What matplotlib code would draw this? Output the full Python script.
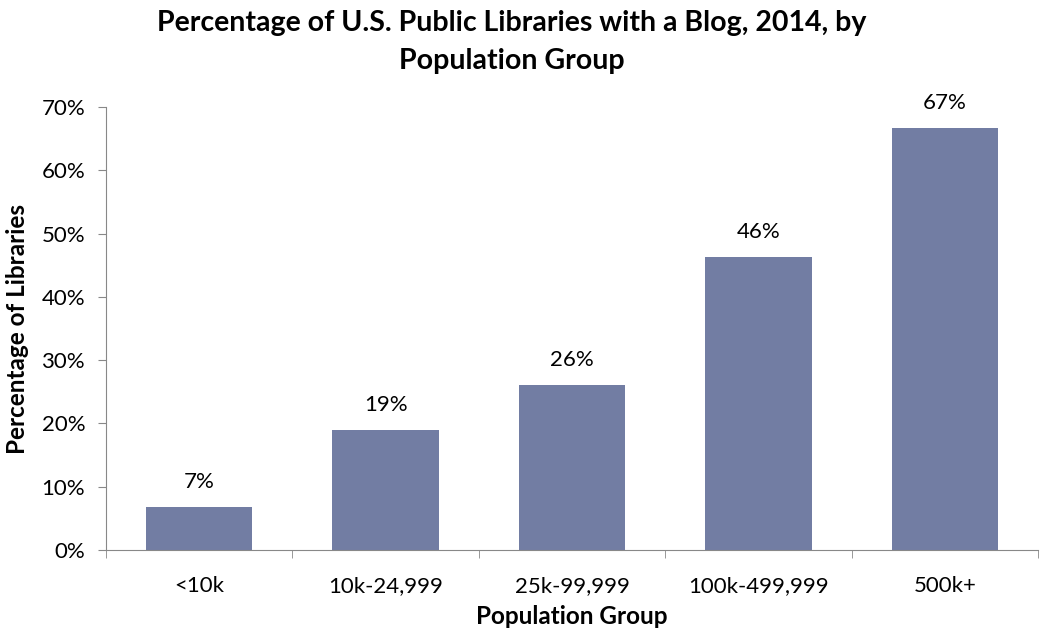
import matplotlib
matplotlib.use('Agg')
import matplotlib.pyplot as plt
import numpy as np
from matplotlib.ticker import FuncFormatter, FixedLocator

# values (percent)
groups = ['<10k', '10k-24,999', '25k-99,999', '100k-499,999', '500k+']
pct = [6.8, 19.0, 26.0, 46.3, 66.7]
bar_labels = ['7%', '19%', '26%', '46%', '67%']

plt.rcParams['font.family'] = ['Lato', 'DejaVu Sans']

fig = plt.figure(figsize=(10.45, 6.41), dpi=100)
ax = fig.add_axes([0.1014, 0.142, 0.892, 0.691])

x = np.arange(len(groups))
bars = ax.bar(x, pct, width=0.57, color='#727DA3')
for b, lab in zip(bars, bar_labels):
    ax.text(b.get_x() + b.get_width() / 2, b.get_height() + 2.4, lab,
            ha='center', va='bottom', fontsize=16)

ax.set_xlim(-0.5, len(groups) - 0.5)
ax.set_ylim(0, 70)
ax.set_yticks(np.arange(0, 71, 10))
ax.yaxis.set_major_formatter(FuncFormatter(lambda v, p: '%d%%' % v))
ax.set_xticks(x)
ax.set_xticklabels(groups)
ax.xaxis.set_minor_locator(FixedLocator(np.arange(-0.5, len(groups), 1.0)))
ax.tick_params(axis='x', which='major', length=0, pad=19, labelsize=16)
ax.tick_params(axis='x', which='minor', length=6, color='#888888', direction='out')
ax.tick_params(axis='y', length=6, color='#888888', direction='out', labelsize=16, pad=9)

for s in ['top', 'right']:
    ax.spines[s].set_visible(False)
for s in ['left', 'bottom']:
    ax.spines[s].set_color('#888888')

ax.set_xlabel('Population Group', fontsize=17.5, fontweight='bold')
ax.set_ylabel('Percentage of Libraries', fontsize=17.5, fontweight='bold')
ax.xaxis.set_label_coords(0.5, -0.125)
ax.yaxis.set_label_coords(-0.083, 0.5)
fig.suptitle('Percentage of U.S. Public Libraries with a Blog, 2014, by\nPopulation Group',
             x=0.49, y=0.985, fontsize=20.5, fontweight='bold', linespacing=1.6)

fig.savefig('out.png', dpi=100)
